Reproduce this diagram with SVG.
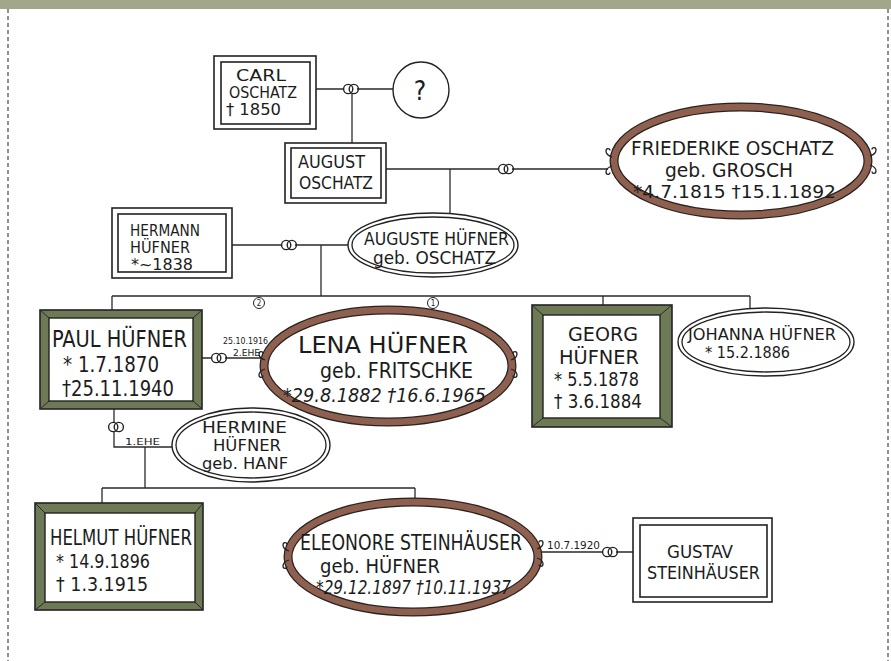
<svg xmlns="http://www.w3.org/2000/svg" xmlns:xlink="http://www.w3.org/1999/xlink" width="891" height="661" viewBox="0 0 891 661">
<style>
  text { font-family: "Liberation Sans Narrow", "DejaVu Sans Condensed", "Liberation Sans", sans-serif; fill: #1c1c1c; }
  .ln { fill: none; stroke: #2a2a2a; stroke-width: 1.3; }
  .box { fill: #fff; stroke: #222; stroke-width: 1.6; }
  .frameO { fill: #6e7955; stroke: #222; stroke-width: 1.6; }
  .frameI { fill: #fff; stroke: #222; stroke-width: 1.4; }
  .bev { stroke: #2a2a2a; stroke-width: 1; }
  .oval { fill: #fff; stroke: #222; stroke-width: 1.4; }
  .ovalI { fill: none; stroke: #222; stroke-width: 1.3; }
  .brownO { fill: #fff; stroke: #2a2220; stroke-width: 9; }
  .brownI { fill: none; stroke: #8e604f; stroke-width: 6.5; }
  .curl { fill: none; stroke: #222; stroke-width: 1.3; }
  .it { font-style: italic; }
  .sm { font-size: 10px; }
</style>
<defs>
  <g id="rings">
    <circle cx="-2.8" cy="0" r="4.6" fill="#fff" stroke="#222" stroke-width="1.4"/>
    <circle cx="2.8" cy="0" r="4.6" fill="none" stroke="#222" stroke-width="1.4"/>
  </g>
  <path id="curl" class="curl" d="M0,0 C-3,-1 -6,-3 -6,-6 C-6,-9 -2,-9 -2,-6.5"/>
</defs>

<rect x="0" y="0" width="891" height="661" fill="#fff"/>
<rect x="0" y="0" width="891" height="9" fill="#a2a68a"/>
<line x1="8" y1="9" x2="8" y2="661" stroke="#555" stroke-width="1.3" stroke-dasharray="4 3"/>
<line x1="888" y1="9" x2="888" y2="661" stroke="#555" stroke-width="1.3" stroke-dasharray="4 3"/>

<g id="connectors">
  <path class="ln" d="M316,89 H346 M357,89 H393"/>
  <path class="ln" d="M352,94 V143"/>
  <path class="ln" d="M386,169 H500 M512,169 H608"/>
  <path class="ln" d="M450,169 V213"/>
  <path class="ln" d="M232,245 H283 M295,245 H348"/>
  <path class="ln" d="M321,245 V296"/>
  <path class="ln" d="M112,296 H750"/>
  <path class="ln" d="M112,296 V310 M603,296 V305 M750,296 V308"/>
  <circle cx="259" cy="303" r="5.5" fill="#fff" stroke="#222" stroke-width="1"/>
  <text x="259" y="306" font-size="8" text-anchor="middle">2</text>
  <circle cx="433" cy="303" r="5.5" fill="#fff" stroke="#222" stroke-width="1"/>
  <text x="433" y="306" font-size="8" text-anchor="middle">1</text>
  <path class="ln" d="M202,358 H213 M225,358 H262"/>
  <text x="223" y="344" font-size="9" textLength="45" lengthAdjust="spacingAndGlyphs">25.10.1916</text>
  <text x="233" y="356" font-size="8.5" textLength="27" lengthAdjust="spacingAndGlyphs">2.EHE</text>
  <path class="ln" d="M114,409 V447 H172"/>
  <text x="125" y="445" font-size="9" textLength="35" lengthAdjust="spacingAndGlyphs">1.EHE</text>
  <path class="ln" d="M145,447 V488 M102,488 H415 M102,488 V503 M415,488 V502"/>
  <path class="ln" d="M540,552 H604 M616,552 H633"/>
  <text x="547" y="549" font-size="10.5" textLength="53" lengthAdjust="spacingAndGlyphs">10.7.1920</text>
  <use href="#rings" x="351" y="89"/>
  <use href="#rings" x="506" y="169"/>
  <use href="#rings" x="289" y="245"/>
  <use href="#rings" x="219" y="358"/>
  <use href="#rings" x="116" y="427"/>
  <use href="#rings" x="610" y="552"/>
</g>

<g id="carl">
  <rect class="box" x="214" y="56" width="102" height="73"/>
  <rect class="box" x="221" y="62" width="89" height="62"/>
  <text x="236" y="81" font-size="15" textLength="50" lengthAdjust="spacingAndGlyphs">CARL</text>
  <text x="229" y="98" font-size="15" textLength="68" lengthAdjust="spacingAndGlyphs">OSCHATZ</text>
  <text x="226" y="115" font-size="15" textLength="55" lengthAdjust="spacingAndGlyphs">† 1850</text>
</g>

<g id="unknown">
  <circle class="oval" cx="421" cy="90" r="28"/>
  <text x="420" y="100" font-size="26" text-anchor="middle">?</text>
</g>

<g id="august">
  <rect class="box" x="285" y="143" width="101" height="60"/>
  <rect class="box" x="291" y="148" width="90" height="50"/>
  <text x="298" y="168" font-size="18" textLength="67" lengthAdjust="spacingAndGlyphs">AUGUST</text>
  <text x="299" y="189" font-size="18" textLength="74" lengthAdjust="spacingAndGlyphs">OSCHATZ</text>
</g>

<g id="friederike">
  <ellipse class="brownO" cx="741" cy="161" rx="127" ry="54"/>
  <ellipse class="brownI" cx="741" cy="161" rx="127" ry="54"/>
  <use href="#curl" transform="translate(612,157)"/>
  <use href="#curl" transform="translate(612,166) scale(1,-1)"/>
  <use href="#curl" transform="translate(870,156) scale(-1,1)"/>
  <use href="#curl" transform="translate(870,165) scale(-1,-1)"/>
  <text x="631" y="155" font-size="20" textLength="203" lengthAdjust="spacingAndGlyphs">FRIEDERIKE OSCHATZ</text>
  <text x="665" y="177" font-size="20" textLength="128" lengthAdjust="spacingAndGlyphs">geb. GROSCH</text>
  <text x="633" y="198" font-size="18" textLength="203" lengthAdjust="spacingAndGlyphs">*4.7.1815  †15.1.1892</text>
</g>

<g id="hermann">
  <rect class="box" x="112" y="208" width="120" height="70"/>
  <rect class="box" x="118" y="214" width="108" height="58"/>
  <text x="130" y="236" font-size="15" textLength="70" lengthAdjust="spacingAndGlyphs">HERMANN</text>
  <text x="130" y="253" font-size="15" textLength="60" lengthAdjust="spacingAndGlyphs">HÜFNER</text>
  <text x="131" y="270" font-size="15" textLength="62" lengthAdjust="spacingAndGlyphs">*~1838</text>
</g>

<g id="auguste">
  <ellipse class="oval" cx="433" cy="245" rx="85" ry="32"/>
  <ellipse class="ovalI" cx="433" cy="245" rx="81" ry="28"/>
  <text x="364" y="245" font-size="17" textLength="145" lengthAdjust="spacingAndGlyphs">AUGUSTE HÜFNER</text>
  <text x="373" y="264" font-size="17" textLength="123" lengthAdjust="spacingAndGlyphs">geb. OSCHATZ</text>
</g>

<g id="paul">
  <rect class="frameO" x="40" y="310" width="162" height="99"/>
  <path class="bev" d="M40,310 L49,318 M202,310 L193,318 M40,409 L49,401 M202,409 L193,401"/>
  <rect class="frameI" x="49" y="318" width="144" height="83"/>
  <text x="52" y="347" font-size="23" textLength="135" lengthAdjust="spacingAndGlyphs">PAUL HÜFNER</text>
  <text x="63" y="372" font-size="21" textLength="96" lengthAdjust="spacingAndGlyphs">* 1.7.1870</text>
  <text x="62" y="396" font-size="21" textLength="112" lengthAdjust="spacingAndGlyphs">†25.11.1940</text>
</g>

<g id="lena">
  <ellipse class="brownO" cx="388" cy="366" rx="124" ry="56"/>
  <ellipse class="brownI" cx="388" cy="366" rx="124" ry="56"/>
  <use href="#curl" transform="translate(265,360)"/>
  <use href="#curl" transform="translate(265,369) scale(1,-1)"/>
  <use href="#curl" transform="translate(511,360) scale(-1,1)"/>
  <use href="#curl" transform="translate(511,369) scale(-1,-1)"/>
  <text x="298" y="353" font-size="23" textLength="170" lengthAdjust="spacingAndGlyphs">LENA  HÜFNER</text>
  <text x="320" y="378" font-size="22" textLength="153" lengthAdjust="spacingAndGlyphs">geb.  FRITSCHKE</text>
  <text x="283" y="402" font-size="20" class="it" textLength="203" lengthAdjust="spacingAndGlyphs">*29.8.1882 †16.6.1965</text>
</g>

<g id="georg">
  <rect class="frameO" x="532" y="305" width="140" height="122"/>
  <path class="bev" d="M532,305 L543,315 M672,305 L660,315 M532,427 L543,418 M672,427 L660,418"/>
  <rect class="frameI" x="543" y="315" width="117" height="103"/>
  <text x="568" y="341" font-size="20" textLength="70" lengthAdjust="spacingAndGlyphs">GEORG</text>
  <text x="559" y="364" font-size="20" textLength="80" lengthAdjust="spacingAndGlyphs">HÜFNER</text>
  <text x="554" y="386" font-size="19" textLength="85" lengthAdjust="spacingAndGlyphs">* 5.5.1878</text>
  <text x="554" y="408" font-size="19" textLength="88" lengthAdjust="spacingAndGlyphs">† 3.6.1884</text>
</g>

<g id="johanna">
  <ellipse class="oval" cx="766" cy="342" rx="88" ry="34"/>
  <ellipse class="ovalI" cx="766" cy="342" rx="84" ry="30"/>
  <text x="688" y="340" font-size="16" textLength="148" lengthAdjust="spacingAndGlyphs">JOHANNA HÜFNER</text>
  <text x="705" y="358" font-size="16" textLength="85" lengthAdjust="spacingAndGlyphs">* 15.2.1886</text>
</g>

<g id="hermine">
  <ellipse class="oval" cx="251" cy="445" rx="79" ry="37"/>
  <ellipse class="ovalI" cx="251" cy="445" rx="75" ry="33"/>
  <text x="202" y="433" font-size="16" textLength="85" lengthAdjust="spacingAndGlyphs">HERMINE</text>
  <text x="213" y="451" font-size="16" textLength="68" lengthAdjust="spacingAndGlyphs">HÜFNER</text>
  <text x="202" y="469" font-size="16" textLength="86" lengthAdjust="spacingAndGlyphs">geb. HANF</text>
</g>

<g id="helmut">
  <rect class="frameO" x="35" y="503" width="168" height="107"/>
  <path class="bev" d="M35,503 L45,513 M203,503 L195,513 M35,610 L45,602 M203,610 L195,602"/>
  <rect class="frameI" x="45" y="513" width="150" height="89"/>
  <text x="50" y="545" font-size="22" textLength="142" lengthAdjust="spacingAndGlyphs">HELMUT HÜFNER</text>
  <text x="56" y="568" font-size="20" textLength="94" lengthAdjust="spacingAndGlyphs">* 14.9.1896</text>
  <text x="56" y="591" font-size="20" textLength="92" lengthAdjust="spacingAndGlyphs">† 1.3.1915</text>
</g>

<g id="eleonore">
  <ellipse class="brownO" cx="413" cy="557" rx="125" ry="55"/>
  <ellipse class="brownI" cx="413" cy="557" rx="125" ry="55"/>
  <use href="#curl" transform="translate(289,551)"/>
  <use href="#curl" transform="translate(289,560) scale(1,-1)"/>
  <use href="#curl" transform="translate(537,549) scale(-1,1)"/>
  <use href="#curl" transform="translate(537,558) scale(-1,-1)"/>
  <text x="300" y="550" font-size="21" textLength="222" lengthAdjust="spacingAndGlyphs">ELEONORE STEINHÄUSER</text>
  <text x="320" y="573" font-size="20" textLength="120" lengthAdjust="spacingAndGlyphs">geb.  HÜFNER</text>
  <text x="316" y="594" font-size="19" class="it" textLength="195" lengthAdjust="spacingAndGlyphs">*29.12.1897 †10.11.1937</text>
</g>

<g id="gustav">
  <rect class="box" x="633" y="518" width="139" height="84"/>
  <rect class="box" x="640" y="525" width="127" height="72"/>
  <text x="667" y="558" font-size="17" textLength="66" lengthAdjust="spacingAndGlyphs">GUSTAV</text>
  <text x="647" y="579" font-size="17" textLength="113" lengthAdjust="spacingAndGlyphs">STEINHÄUSER</text>
</g>
</svg>
